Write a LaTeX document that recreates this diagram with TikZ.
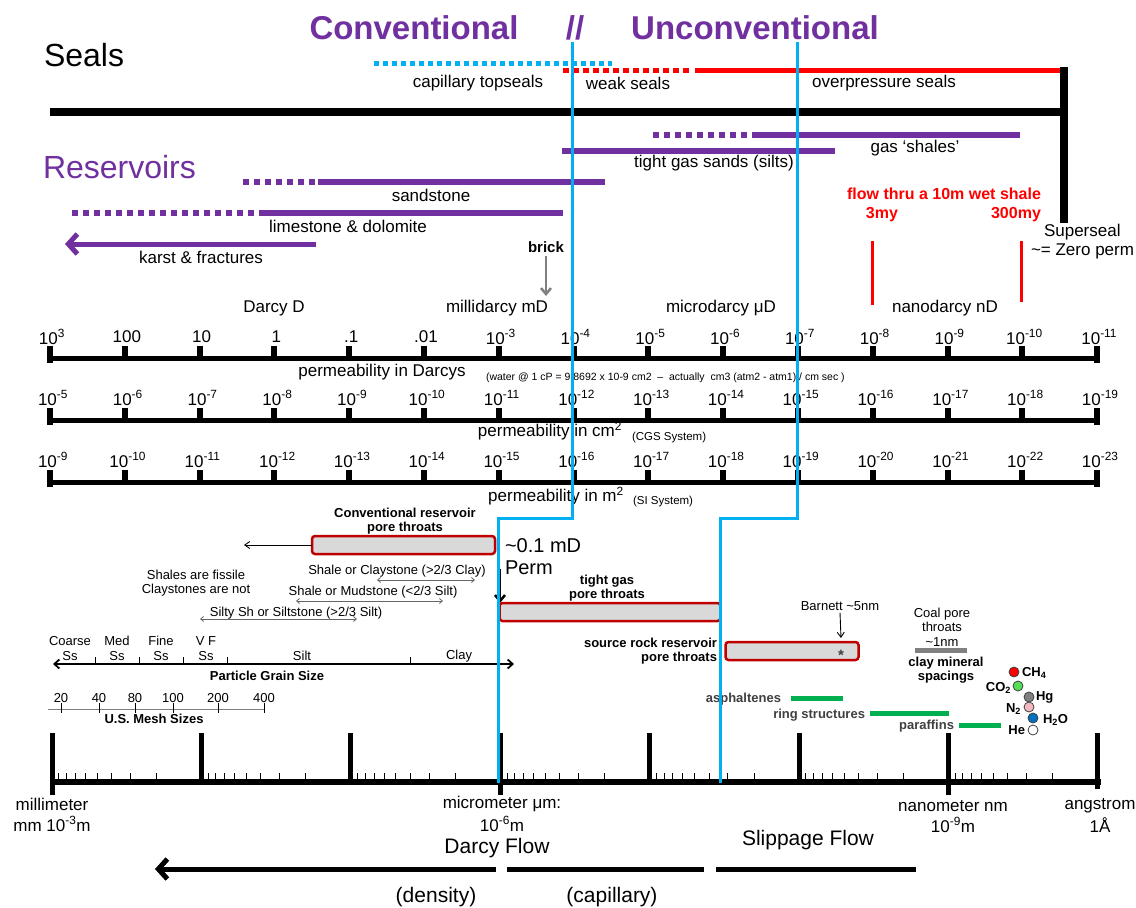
\documentclass[tikz,border=0pt]{standalone}
\usepackage{fontspec}
\setmainfont{Liberation Sans}
\usetikzlibrary{arrows.meta}
\definecolor{purp}{HTML}{7030A0}
\definecolor{cyanl}{HTML}{00B0F0}
\definecolor{boxred}{HTML}{C00000}
\definecolor{boxfill}{HTML}{D9D9D9}
\definecolor{grn}{HTML}{00B050}
\definecolor{redl}{HTML}{FF0000}
\definecolor{dgray}{HTML}{404040}
\definecolor{molgreen}{HTML}{55DD55}
\definecolor{molpink}{HTML}{F4B8C0}
\definecolor{molblue}{HTML}{0070C0}
\newcommand\fsz[2]{\fontsize{#1}{#2}\selectfont}
\newcommand\tpow[1]{10\textsuperscript{#1}}
\begin{document}
\begin{tikzpicture}[x=1pt,y=-1pt,
  every node/.style={inner sep=0pt, outer sep=0pt},
  lbl/.style={font=\fsz{17}{20}},
  big/.style={font=\fsz{32}{36}},
  ttl/.style={font=\fsz{33}{36}\bfseries, text=purp},
  sm/.style={font=\fsz{13}{14}, align=center},
  smb/.style={font=\fsz{13}{14}\bfseries, align=center},
  tinyl/.style={font=\fsz{10.5}{12}},
  flowl/.style={font=\fsz{21}{24}},
  redb/.style={font=\fsz{16}{18}\bfseries, text=redl},
  sealbar/.style={line width=8pt},
  purpline/.style={purp, line width=6pt},
  purpdot/.style={purp, line width=6pt, dash pattern=on 6pt off 5pt},
  cyanline/.style={cyanl, line width=3pt},
  axisl/.style={line width=5pt},
  tickl/.style={line width=6pt},
  pore/.style={draw=boxred, fill=boxfill, line width=2.5pt, rounded corners=3pt},
  gbar/.style={grn, line width=5pt},
  mol/.style={circle, draw=dgray, line width=0.8pt, minimum size=10pt},
  thinarr/.style={-{Straight Barb[length=5pt,width=7pt]}, line width=0.9pt},
  dblarr/.style={{Straight Barb[length=3pt,width=5pt]}-{Straight Barb[length=3pt,width=5pt]}, line width=0.8pt, black!60},
  bigarr/.style={line width=5pt, -{Straight Barb[length=9pt,width=20pt]}},
]
\fill[white] (0,0) rectangle (1136,908);
\useasboundingbox (0,0) rectangle (1136,908);

% ---------- titles ----------
\node[ttl] (conv) at (414,28) {Conventional};
\node[ttl] (slash) at (575,28) {//};
\node[ttl] (unconv) at (755,28) {Unconventional};
\node[big, anchor=west] (seals) at (44,55) {Seals};

% ---------- seals ----------
\coordinate (ct1) at (374,63); \coordinate (ct2) at (612,63);
\draw[cyanl, line width=5pt, dash pattern=on 5pt off 4pt] (ct1) -- (ct2);
\coordinate (ws1) at (563,70); \coordinate (ws2) at (690,70);
\draw[redl, line width=5pt, dash pattern=on 6pt off 4pt] (ws1) -- (ws2);
\coordinate (op1) at (695,70); \coordinate (op2) at (1064,70);
\draw[redl, line width=5pt] (op1) -- (op2);
\node[lbl] (capts) at (478,83) {capillary topseals};
\node[lbl] (weak) at (628,83) {weak seals};
\node[lbl] (overp) at (884,83) {overpressure seals};
\draw[sealbar] (50,112) -- (1068,112);
\draw[sealbar] (1064,67) -- (1064,223);
\node[lbl, anchor=west] (sup) at (1044,232) {Superseal};
\node[lbl, anchor=west] (zero) at (1031,251) {\textasciitilde= Zero perm};

% ---------- reservoirs ----------
\node[big, text=purp, anchor=west] (res) at (43,167) {Reservoirs};
\draw[purpdot] (653,135) -- (748,135);
\draw[purpline] (752,135) -- (1020,135);
\node[lbl] (gsh) at (915,148) {gas `shales'};
\draw[purpline] (562,151) -- (835,151);
\node[lbl] (tgs) at (714,163) {tight gas sands (silts)};
\draw[purpdot] (243,182) -- (316,182);
\draw[purpline] (318,182) -- (605,182);
\node[lbl] (sand) at (431,195) {sandstone};
\draw[purpdot] (72,213) -- (261,213);
\draw[purpline] (261,213) -- (563,213);
\node[lbl] (lime) at (348,226) {limestone \& dolomite};
\coordinate (ka1) at (316,244); \coordinate (ka2) at (65,244);
\draw[bigarr, purp] (ka1) -- (ka2);
\node[lbl] (karst) at (201,257) {karst \& fractures};

\node[font=\fsz{15}{17}\bfseries] (brick) at (546,247) {brick};
\coordinate (brickend) at (546,296);
\draw[gray, line width=2.5pt, -{Straight Barb[length=6pt,width=10pt]}, shorten <=3pt] (brick) -- (brickend);

\node[redb] (flowthru) at (944,194) {flow thru a 10m wet shale};
\node[redb] (my3) at (882,215) {3my};
\node[redb] (my300) at (1016,215) {300my};
\draw[redl, line width=3pt] (872,241) -- (872,305);
\draw[redl, line width=3pt] (1021,241) -- (1021,302);

\node[lbl] (ud) at (274,308) {Darcy D};
\node[lbl] (umd) at (497,308) {millidarcy mD};
\node[lbl] (uud) at (721,308) {microdarcy μD};
\node[lbl] (und) at (945,308) {nanodarcy nD};

% ---------- permeability axes ----------
\foreach \ya/\yl in {358/337, 420/398, 482/460} {
  \draw[axisl] (50,\ya) -- (1100,\ya);
  \foreach \i in {0,...,14} {
    \pgfmathsetmacro\xx{50+74.8*\i}
    \draw[tickl] (\xx,\ya-12) -- (\xx,\ya);
  }
  \draw[tickl] (50,\ya-12) -- (50,\ya+5);
  \draw[tickl] (1097.2,\ya-12) -- (1097.2,\ya+5);
}
\foreach \t [count=\i from 0] in {\tpow{3},100,10,1,.1,.01,\tpow{-3},\tpow{-4},\tpow{-5},\tpow{-6},\tpow{-7},\tpow{-8},\tpow{-9},\tpow{-10},\tpow{-11}}
  \node[lbl] (dl\i) at ({52+74.8*\i},337) {\t};
\foreach \i in {0,...,14} {
  \pgfmathtruncatemacro\ea{5+\i}
  \pgfmathtruncatemacro\eb{9+\i}
  \node[lbl] (cl\i) at ({53+74.8*\i},398) {\tpow{-\ea}};
  \node[lbl] (ml\i) at ({53+74.8*\i},460) {\tpow{-\eb}};
}
\node[lbl] (pd) at (382,372) {permeability in Darcys};
\node[tinyl, anchor=west] (water) at (486,378) {(water @ 1 cP = 9.8692 x 10-9 cm2\ \ --\ \ actually\ \ cm3 (atm2 - atm1) / cm sec )};
\node[lbl] (pc) at (550,431) {permeability in cm\textsuperscript{2}};
\node[font=\fsz{11.5}{13}, anchor=west] (cgs) at (632,438) {(CGS System)};
\node[lbl] (pm) at (556,496) {permeability in m\textsuperscript{2}};
\node[font=\fsz{11.5}{13}, anchor=west] (si) at (633,502) {(SI System)};

% ---------- pore throats ----------
\node[smb] (convlab) at (405,521) {Conventional reservoir\\pore throats};
\node[pore, minimum width=183pt, minimum height=18pt] (convbox) at (403.5,545) {};
\coordinate (convarr) at (244,545);
\draw[thinarr] (convbox.west) -- (convarr);

\node[font=\fsz{20}{22}, anchor=west] (tenth) at (505,546) {\textasciitilde0.1 mD};
\node[font=\fsz{20}{22}, anchor=west] (perm) at (505,568) {Perm};
\coordinate (pa1) at (500,569); \coordinate (pa2) at (500,603);
\draw[line width=2.5pt, -{Straight Barb[length=6pt,width=10pt]}] (pa1) -- (pa2);

\node[smb] (tglab) at (607,588) {tight gas\\pore throats};
\node[pore, minimum width=221pt, minimum height=18pt] (tgbox) at (610,612) {};

\node[smb, align=right, anchor=east] (srlab) at (717,651) {source rock reservoir\\pore throats};
\node[pore, minimum width=133pt, minimum height=18pt] (srbox) at (792,651) {};
\node[font=\fsz{15}{15}\bfseries, text=dgray] (ast) at (841,655) {*};
\node[sm] (barn) at (840,606) {Barnett \textasciitilde5nm};
\coordinate (barnend) at (841,638);
\draw[thinarr] (barn.south) ++(0,2) -- (barnend);

\node[font=\fsz{13}{14.5}, align=center] (coal) at (942,627) {Coal pore\\throats\\\textasciitilde1nm};
\draw[gray, line width=5pt] (915,650) -- (967,650);
\node[smb] (claym) at (946,670) {clay mineral\\spacings};

% molecules
\node[mol, fill=red] (ch4) at (1014,672) {};
\node[smb, anchor=west] (ch4l) at (1022,673) {CH\textsubscript{4}};
\node[mol, fill=molgreen] (co2) at (1018,686) {};
\node[smb, anchor=east] (co2l) at (1011,688) {CO\textsubscript{2}};
\node[mol, fill=gray] (hg) at (1029,697) {};
\node[smb, anchor=west] (hgl) at (1036,697) {Hg};
\node[mol, fill=molpink] (n2) at (1029,707) {};
\node[smb, anchor=east] (n2l) at (1021,709) {N\textsubscript{2}};
\node[mol, fill=molblue] (h2o) at (1033,718) {};
\node[smb, anchor=west] (h2ol) at (1043,720) {H\textsubscript{2}O};
\node[mol, fill=white] (he) at (1033,730) {};
\node[smb, anchor=east] (hel) at (1025,730) {He};

% green bars
\node[smb, anchor=east, text=dgray] (asph) at (781,699) {asphaltenes};
\draw[gbar] (791,698) -- (843,698);
\node[smb, anchor=east, text=dgray] (ring) at (865,715) {ring structures};
\draw[gbar] (870,713) -- (949,713);
\node[smb, anchor=east, text=dgray] (para) at (954,726) {paraffins};
\draw[gbar] (959,725) -- (1001,725);

% ---------- shale classes ----------
\node[sm] (fiss) at (196,583) {Shales are fissile\\Claystones are not};
\node[sm] (scl) at (397,571) {Shale or Claystone (>2/3 Clay)};
\draw[dblarr] (377,580) -- (475,580);
\node[sm] (smu) at (373,592) {Shale or Mudstone (<2/3 Silt)};
\draw[dblarr] (296,601) -- (443,601);
\node[sm] (ssi) at (296,613) {Silty Sh or Siltstone (>2/3 Silt)};
\draw[dblarr] (200,619) -- (357,619);

% ---------- grain size ----------
\foreach \x/\a [count=\k] in {70/Coarse,117/Med,161/Fine,206/V F} {
  \node[sm] (gs\k) at (\x,641) {\a};
  \node[sm] (gss\k) at (\x,656) {Ss};
}
\node[sm] (silt) at (302,656) {Silt};
\node[sm] (clay) at (459,656) {Clay};
\draw[line width=1.8pt, {Straight Barb[length=5pt,width=9pt]}-{Straight Barb[length=5pt,width=9pt]}] (53,664) -- (514,664);
\foreach \x in {95,139,183,227,410} \draw[line width=1pt] (\x,664) -- (\x,657);
\node[smb] (pgs) at (267,676) {Particle Grain Size};

\draw[gray, line width=1pt] (48,709) -- (265,709);
\foreach \x/\m in {61/20,99/40,135/80,173/100,218/200,264/400} {
  \node[sm] (mesh\m) at (\x,698) {\m};
  \draw[line width=1pt] (\x,703) -- (\x,713);
}
\node[smb] (usm) at (154,719) {U.S. Mesh Sizes};

% ---------- size axis ----------
\draw[line width=6pt] (50,782) -- (1101,782);
\foreach \k in {0,...,7} {
  \pgfmathsetmacro\xx{52+149.4*\k}
  \draw[line width=5pt] (\xx,733) -- (\xx,782);
}
\foreach \k in {0,3,6} {
  \pgfmathsetmacro\xx{52+149.4*\k}
  \draw[line width=5pt] (\xx,782) -- (\xx,795);
}
\draw[line width=5pt] (1097.8,782) -- (1097.8,789);
\foreach \k in {0,...,6} {
  \foreach \v in {0.9,0.8,0.7,0.6,0.5,0.4,0.3,0.2} {
    \pgfmathsetmacro\xx{52+149.4*\k+149.4*log10(1/\v)}
    \draw[line width=0.8pt] (\xx,779) -- (\xx,773);
  }
}
\node[lbl] (mm1) at (52,804) {millimeter};
\node[lbl] (mm2) at (52,824) {mm \tpow{-3}m};
\node[lbl] (um1) at (502,804) {micrometer μm:};
\node[lbl] (um2) at (502,824) {\tpow{-6}m};
\node[lbl] (nm1) at (953,806) {nanometer nm};
\node[lbl] (nm2) at (953,825) {\tpow{-9}m};
\node[lbl] (an1) at (1100,806) {angstrom};
\node[lbl] (an2) at (1100,825) {1Å};

% ---------- flow regimes ----------
\node[flowl] (darcyf) at (497,848) {Darcy Flow};
\node[flowl] (slip) at (808,840) {Slippage Flow};
\coordinate (df1) at (496,869); \coordinate (df2) at (155,869);
\draw[bigarr] (df1) -- (df2);
\coordinate (cf1) at (507,869); \coordinate (cf2) at (704,869);
\draw[line width=5pt] (cf1) -- (cf2);
\coordinate (sf1) at (716,869); \coordinate (sf2) at (916,869);
\draw[line width=5pt] (sf1) -- (sf2);
\node[flowl] (dens) at (436,897) {(density)};
\node[flowl] (capl) at (612,897) {(capillary)};

% ---------- conventional / unconventional boundaries ----------
\draw[cyanline] (572,42) -- (572,518) -- (498,518) -- (498,783);
\draw[cyanline] (797,42) -- (797,518) -- (720,518) -- (720,783);
\end{tikzpicture}
\end{document}
